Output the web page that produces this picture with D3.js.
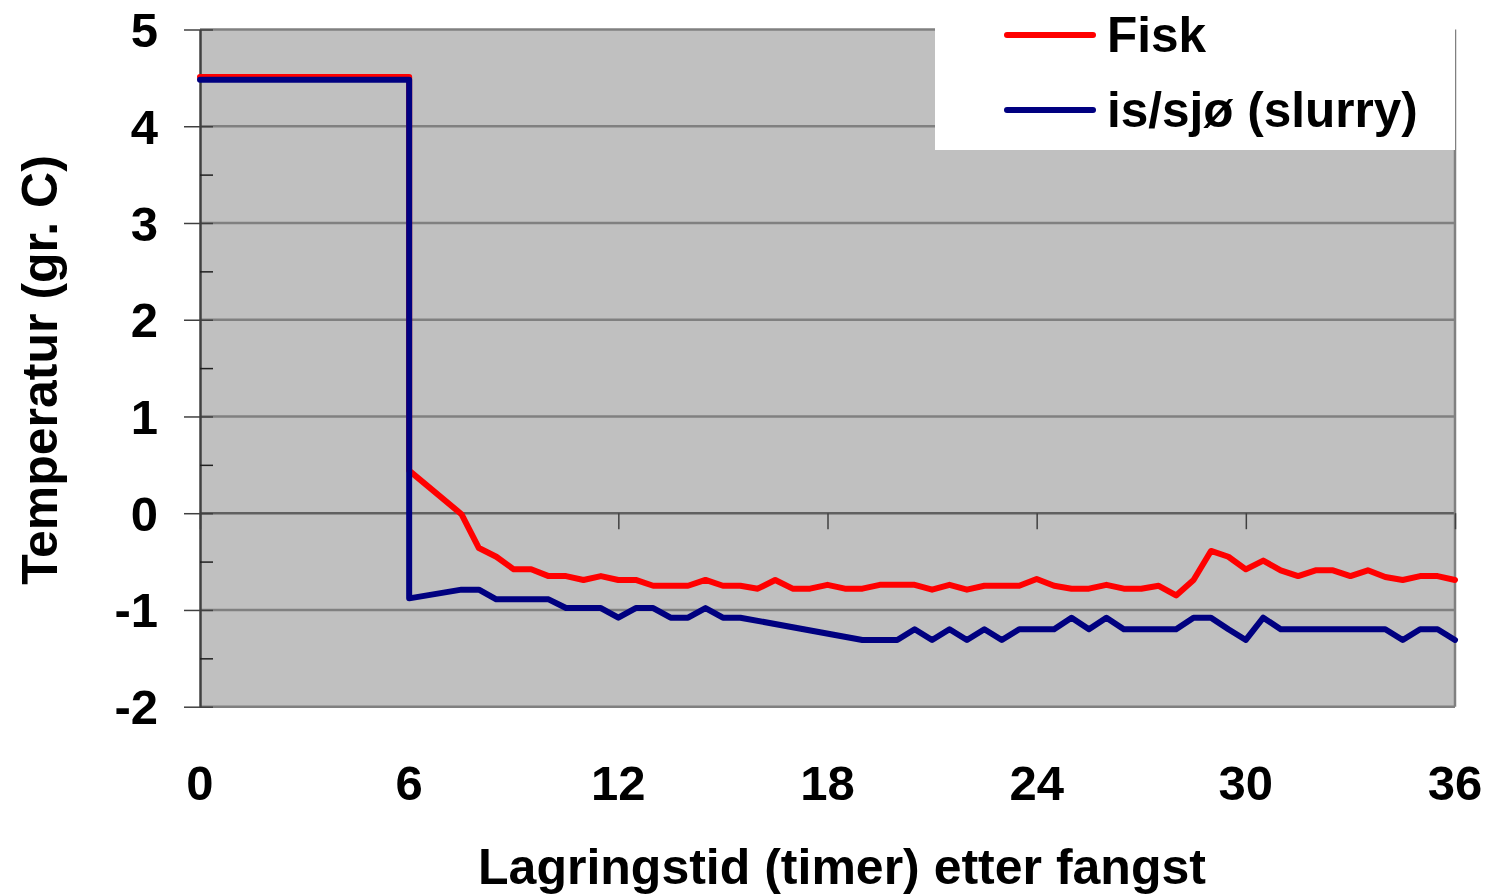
<!DOCTYPE html>
<html>
<head>
<meta charset="utf-8">
<script src="https://cdn.jsdelivr.net/npm/d3@7"></script>
<style>
  html, body { margin: 0; padding: 0; background: #ffffff; }
  svg { display: block; font-family: "Liberation Sans", Arial, sans-serif; font-weight: bold; }
</style>
</head>
<body>
<svg id="chart" width="1488" height="896"></svg>
<script>
// ---- data ----
const seriesNames = ["Fisk", "is/sjø (slurry)"];
const xTickValues = [0, 6, 12, 18, 24, 30, 36];
const yTickValues = [-2, -1, 0, 1, 2, 3, 4, 5];
const xTitle = "Lagringstid (timer) etter fangst";
const yTitle = "Temperatur (gr. C)";

const fiskTime = [0, 6, 6, 7.5, 8, 8.5, 9, 9.5, 10, 10.5, 11, 11.5, 12, 12.5, 13, 13.5, 14, 14.5, 15, 15.5, 16, 16.5, 17,
  17.5, 18, 18.5, 19, 19.5, 20, 20.5, 21, 21.5, 22, 22.5, 23, 23.5, 24, 24.5, 25, 25.5, 26, 26.5, 27, 27.5, 28,
  28.5, 29, 29.5, 30, 30.5, 31, 31.5, 32, 32.5, 33, 33.5, 34, 34.5, 35, 35.5, 36];
const fiskTemp = [4.51, 4.51, 0.44, -0.01, -0.36, -0.45, -0.58, -0.58, -0.65, -0.65, -0.69, -0.65, -0.69, -0.69, -0.75, -0.75, -0.75, -0.69, -0.75, -0.75, -0.78, -0.69, -0.78,
  -0.78, -0.74, -0.78, -0.78, -0.74, -0.74, -0.74, -0.79, -0.74, -0.79, -0.75, -0.75, -0.75, -0.68, -0.75, -0.78, -0.78, -0.74, -0.78, -0.78, -0.75, -0.85,
  -0.69, -0.39, -0.45, -0.58, -0.49, -0.59, -0.65, -0.59, -0.59, -0.65, -0.59, -0.66, -0.69, -0.65, -0.65, -0.69];

const slurryTime = [0, 6, 6, 7.5, 8, 8.5, 9, 9.5, 10, 10.5, 11, 11.5, 12, 12.5, 13, 13.5, 14, 14.5, 15, 15.5,
  19, 19.5, 20, 20.5, 21, 21.5, 22, 22.5, 23, 23.5, 24, 24.5, 25, 25.5, 26, 26.5, 27, 27.5, 28,
  28.5, 29, 29.5, 30, 30.5, 31, 31.5, 32, 32.5, 33, 33.5, 34, 34.5, 35, 35.5, 36];
const slurryTemp = [4.48, 4.48, -0.88, -0.79, -0.79, -0.89, -0.89, -0.89, -0.89, -0.98, -0.98, -0.98, -1.08, -0.98, -0.98, -1.08, -1.08, -0.98, -1.08, -1.08,
  -1.31, -1.31, -1.31, -1.20, -1.31, -1.20, -1.31, -1.20, -1.31, -1.20, -1.20, -1.20, -1.08, -1.20, -1.08, -1.20, -1.20, -1.20, -1.20,
  -1.08, -1.08, -1.20, -1.31, -1.08, -1.20, -1.20, -1.20, -1.20, -1.20, -1.20, -1.20, -1.31, -1.20, -1.20, -1.31];

const seriesColors = ["#ff0000", "#000080"];

// ---- layout ----
const svg = d3.select("#chart");
const pLeft = 200, pRight = 1455, pTop = 29.5, pBottom = 706.7;
const x = d3.scaleLinear().domain([0, 36]).range([pLeft, pRight]);
const y = d3.scaleLinear().domain([-2, 5]).range([pBottom, pTop]);
const FS = 49;

// plot background
svg.append("rect").attr("x", pLeft).attr("y", pTop).attr("width", pRight - pLeft).attr("height", pBottom - pTop)
  .attr("fill", "#c0c0c0");

// gridlines
svg.append("g").selectAll("line").data(yTickValues).join("line")
  .attr("x1", pLeft).attr("x2", pRight)
  .attr("y1", d => y(d)).attr("y2", d => y(d))
  .attr("stroke", d => d === 0 ? "#606060" : "#808080").attr("stroke-width", 2.5);

// right border
svg.append("line").attr("x1", pRight).attr("x2", pRight).attr("y1", pTop).attr("y2", pBottom)
  .attr("stroke", "#808080").attr("stroke-width", 2.5);

// y axis (left) with major ticks crossing and minor ticks inside
const yAxisMajor = d3.axisLeft(y).tickValues(yTickValues).tickSize(0).tickFormat(d => d);
const gy = svg.append("g").attr("transform", `translate(${pLeft},0)`).call(yAxisMajor);
gy.select(".domain").attr("stroke", "#404040").attr("stroke-width", 2.5);
gy.selectAll(".tick text").remove();
gy.selectAll(".tick").append("line").attr("x1", -16).attr("x2", 13).attr("stroke", "#404040").attr("stroke-width", 1.5);

const minorY = yTickValues.slice(0, -1).map(v => v + 0.5);
const gyMinor = svg.append("g").attr("transform", `translate(${pLeft},0)`)
  .call(d3.axisRight(y).tickValues(minorY).tickSize(13).tickFormat(""));
gyMinor.select(".domain").remove();
gyMinor.selectAll(".tick line").attr("stroke", "#202020").attr("stroke-width", 1.5);

// y tick labels
svg.append("g").selectAll("text").data(yTickValues).join("text")
  .attr("x", 158).attr("y", d => y(d) + 0.358 * FS)
  .attr("text-anchor", "end").attr("font-size", FS).attr("fill", "#000")
  .text(d => d);

// x axis at y=0 with ticks downward
const gx = svg.append("g").attr("transform", `translate(0,${y(0)})`)
  .call(d3.axisBottom(x).tickValues(xTickValues).tickSize(16).tickFormat(""));
gx.select(".domain").remove();
gx.selectAll(".tick line").attr("stroke", "#404040").attr("stroke-width", 1.5);

// x tick labels at bottom
svg.append("g").selectAll("text").data(xTickValues).join("text")
  .attr("x", d => x(d)).attr("y", 800)
  .attr("text-anchor", "middle").attr("font-size", FS).attr("fill", "#000")
  .text(d => d);

// axis titles
svg.append("text").attr("x", 842).attr("y", 884).attr("text-anchor", "middle")
  .attr("font-size", 50).attr("fill", "#000").text(xTitle);
svg.append("text").attr("transform", "translate(57,370) rotate(-90)").attr("text-anchor", "middle")
  .attr("font-size", 50).attr("fill", "#000").text(yTitle);

// lines
const series = [
  { name: seriesNames[0], color: seriesColors[0], pts: fiskTime.map((t, i) => [t, fiskTemp[i]]) },
  { name: seriesNames[1], color: seriesColors[1], pts: slurryTime.map((t, i) => [t, slurryTemp[i]]) }
];
const line = d3.line().x(d => x(d[0])).y(d => y(d[1]));
svg.append("g").selectAll("path").data(series).join("path")
  .attr("d", d => line(d.pts))
  .attr("fill", "none").attr("stroke", d => d.color).attr("stroke-width", 6)
  .attr("stroke-linejoin", "round").attr("stroke-linecap", "round");

// legend
svg.append("rect").attr("x", 935).attr("y", 0).attr("width", 520).attr("height", 150).attr("fill", "#ffffff");
const lg = svg.append("g").selectAll("g").data(series).join("g")
  .attr("transform", (d, i) => `translate(0,${i === 0 ? 35 : 110})`);
lg.append("line").attr("x1", 1007).attr("x2", 1093).attr("y1", 0).attr("y2", 0)
  .attr("stroke", d => d.color).attr("stroke-width", 6).attr("stroke-linecap", "round");
lg.append("text").attr("x", 1107).attr("y", 17).attr("font-size", 49.5).attr("fill", "#000")
  .text(d => d.name);
</script>
</body>
</html>
